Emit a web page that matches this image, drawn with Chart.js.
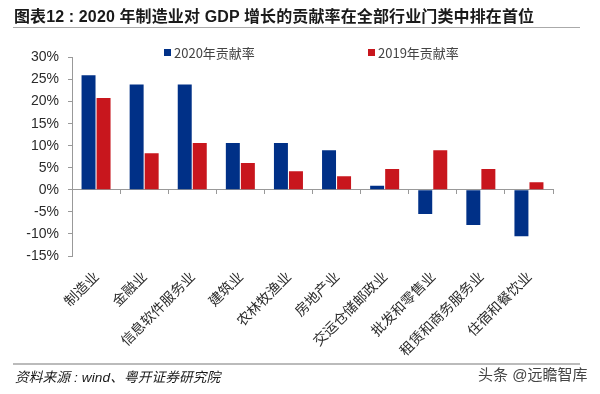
<!DOCTYPE html>
<html>
<head>
<meta charset="utf-8">
<script src="https://cdn.jsdelivr.net/npm/chart.js@4"></script>
<style>
html, body { margin: 0; padding: 0; background: #fff; }
#box { position: relative; width: 600px; height: 394px; overflow: hidden; font-family: "Liberation Sans", "Noto Sans CJK SC", sans-serif; }
#myChart { position: absolute; left: 0; top: 0; }
.txt { position: absolute; white-space: nowrap; color: #1a1a1a; }
.rule { position: absolute; left: 13px; width: 567px; height: 1px; background: #aaa; }
#legend span { position: absolute; top: 43px; font-family: "Liberation Sans Narrow", "Noto Sans CJK SC", sans-serif; font-size: 13px; line-height: 20px; color: #444; white-space: nowrap; }
#legend i { position: absolute; top: 49px; width: 7px; height: 7px; }
</style>
</head>
<body>
<div id="box">
  <canvas id="myChart" width="600" height="394"></canvas>
  <div class="txt" style="left:14px;top:6px;font-size:16px;line-height:22px;font-weight:700;letter-spacing:0.12px;">图表12 : 2020 年制造业对 GDP 增长的贡献率在全部行业门类中排在首位</div>
  <div class="rule" style="top:27px;"></div>
  <div id="legend"></div>
  <div class="rule" style="top:363px;height:2px;background:#bbb;"></div>
  <div class="txt" style="left:15px;top:368px;font-size:13.7px;line-height:20px;font-style:italic;letter-spacing:0.08px;">资料来源 : wind、粤开证券研究院</div>
  <div class="txt" style="left:478px;top:365px;font-size:15px;line-height:20px;color:#444;">头条 @远瞻智库</div>
</div>
<script>
// data
const categories = ["制造业", "金融业", "信息软件服务业", "建筑业", "农林牧渔业", "房地产业", "交运仓储邮政业", "批发和零售业", "租赁和商务服务业", "住宿和餐饮业"];
const rate2020 = [26, 23.9, 23.9, 10.6, 10.6, 9, 0.9, -5.5, -8, -10.5];
const rate2019 = [20.8, 8.3, 10.6, 6.1, 4.2, 3.1, 4.7, 9, 4.7, 1.7];
const labelColor = "#2b2b2b";
const axisColor = "#999999";

const ctx = document.getElementById("myChart").getContext("2d");
const myChart = new Chart(ctx, {
    type: "bar",
    data: {
        labels: categories,
        datasets: [
            {label: "2020年贡献率", data: rate2020, backgroundColor: "#003087", categoryPercentage: 0.625, barPercentage: 0.93},
            {label: "2019年贡献率", data: rate2019, backgroundColor: "#c8161d", categoryPercentage: 0.625, barPercentage: 0.93}
        ]
    },
    options: {
        responsive: false,
        animation: false,
        layout: {padding: {top: 57.5, right: 47, left: 0, bottom: 138}},
        plugins: {legend: {display: false}, tooltip: {enabled: false}},
        scales: {
            x: {
                // axis line crosses at zero, the labels hang below the plot
                position: {y: 0},
                afterFit: function(scale) { scale.paddingLeft = 0; scale.paddingRight = 0; },
                border: {color: axisColor},
                grid: {drawOnChartArea: false, color: axisColor, tickLength: 4},
                ticks: {
                    autoSkip: false, minRotation: 45, maxRotation: 45, padding: 74,
                    color: labelColor,
                    font: {family: "'Noto Sans CJK SC'", size: 14}
                }
            },
            y: {
                min: -15, max: 30,
                afterFit: function(scale) { scale.width = 72; scale.paddingTop = 0; scale.paddingBottom = 0; },
                border: {color: axisColor},
                grid: {drawOnChartArea: false, color: axisColor, tickLength: 4},
                ticks: {
                    stepSize: 5, padding: 9,
                    color: labelColor,
                    font: {family: "'Liberation Sans'", size: 14},
                    callback: function(v) { return v + "%"; }
                }
            }
        }
    }
});

// legend sits as html, the two entries are spaced far apart
const legendLeft = [164, 368];
let legendHtml = "";
myChart.data.datasets.forEach(function(ds, i) {
    legendHtml += '<i style="left:' + legendLeft[i] + 'px;background:' + ds.backgroundColor + '"></i>';
    legendHtml += '<span style="left:' + (legendLeft[i] + 10) + 'px">' + ds.label + '</span>';
});
document.getElementById("legend").innerHTML = legendHtml;
</script>
</body>
</html>
